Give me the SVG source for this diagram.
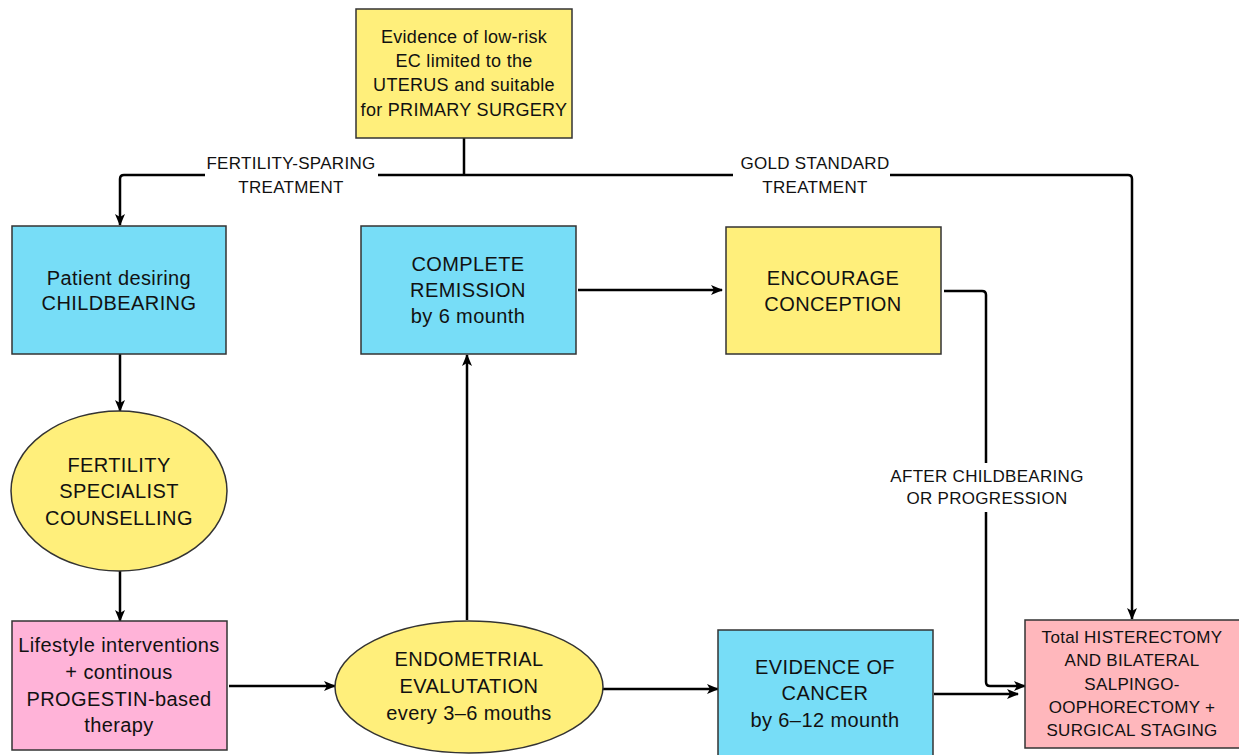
<svg xmlns="http://www.w3.org/2000/svg" width="1239" height="755" viewBox="0 0 1239 755">
<defs>
<marker id="ah" markerWidth="12" markerHeight="10" refX="11" refY="5" orient="auto" markerUnits="userSpaceOnUse">
<path d="M0,0 L12,5 L0,10 L3,5 Z" fill="#000"/>
</marker>
<style>
.n{stroke:#333;stroke-width:1.5}
.y{fill:#FFEF7B}
.c{fill:#77DDF7}
.p{fill:#FFB3D8}
.s{fill:#FFB7BC}
text{font-family:"Liberation Sans",Arial,sans-serif;fill:#111;text-anchor:middle;dominant-baseline:central}
.t{font-size:20px;letter-spacing:0.4px}
.m{font-size:18px;letter-spacing:0.3px}
.l{font-size:17px;letter-spacing:0.3px}
.e{fill:none;stroke:#000;stroke-width:2.5}
</style>
</defs>
<rect width="1239" height="755" fill="#fff"/>
<g id="connectors">
<path class="e" d="M464,138 V175"/>
<path class="e" d="M205,175 H124 Q120,175 120,179 V225" marker-end="url(#ah)"/>
<path class="e" d="M378,175 H733"/>
<path class="e" d="M890,175 H1128 Q1132,175 1132,179 V619" marker-end="url(#ah)"/>
<path class="e" d="M120,354 V411" marker-end="url(#ah)"/>
<path class="e" d="M120,571 V621" marker-end="url(#ah)"/>
<path class="e" d="M229,686 H335" marker-end="url(#ah)"/>
<path class="e" d="M467,620 V355" marker-end="url(#ah)"/>
<path class="e" d="M578,290 H722" marker-end="url(#ah)"/>
<path class="e" d="M944,291 H982 Q986,291 986,295 V463"/>
<path class="e" d="M986,512 V682 Q986,686 990,686 H1025" marker-end="url(#ah)"/>
<path class="e" d="M603,689 H718" marker-end="url(#ah)"/>
<path class="e" d="M934,694 H1018" marker-end="url(#ah)"/>
<text class="l" x="291" y="163">FERTILITY-SPARING</text>
<text class="l" x="291" y="187">TREATMENT</text>
<text class="l" x="815" y="163">GOLD STANDARD</text>
<text class="l" x="815" y="187">TREATMENT</text>
<text class="l" x="987" y="476">AFTER CHILDBEARING</text>
<text class="l" x="987" y="498">OR PROGRESSION</text>
</g>
<g id="n-evidence">
<rect class="n y" x="356" y="9" width="216" height="129"/>
<text class="m" x="464" y="37">Evidence of low-risk</text>
<text class="m" x="464" y="61">EC limited to the</text>
<text class="m" x="464" y="85">UTERUS and suitable</text>
<text class="m" x="464" y="110">for PRIMARY SURGERY</text>
</g>
<g id="n-patient">
<rect class="n c" x="12" y="226" width="214" height="128"/>
<text class="t" x="119" y="278">Patient desiring</text>
<text class="t" x="119" y="303">CHILDBEARING</text>
</g>
<g id="n-counselling">
<ellipse class="n y" cx="119" cy="491" rx="108" ry="80"/>
<text class="t" x="119" y="465">FERTILITY</text>
<text class="t" x="119" y="491">SPECIALIST</text>
<text class="t" x="119" y="518">COUNSELLING</text>
</g>
<g id="n-lifestyle">
<rect class="n p" x="12" y="621" width="215" height="129"/>
<text class="t" x="119" y="645">Lifestyle interventions</text>
<text class="t" x="119" y="672">+ continous</text>
<text class="t" x="119" y="699">PROGESTIN-based</text>
<text class="t" x="119" y="725">therapy</text>
</g>
<g id="n-endometrial">
<ellipse class="n y" cx="469" cy="687" rx="134" ry="66"/>
<text class="t" x="469" y="659">ENDOMETRIAL</text>
<text class="t" x="469" y="686">EVALUTATION</text>
<text class="t" x="469" y="713">every 3–6 mouths</text>
</g>
<g id="n-remission">
<rect class="n c" x="361" y="226" width="215" height="128"/>
<text class="t" x="468" y="264">COMPLETE</text>
<text class="t" x="468" y="290">REMISSION</text>
<text class="t" x="468" y="316">by 6 mounth</text>
</g>
<g id="n-encourage">
<rect class="n y" x="726" y="227" width="215" height="127"/>
<text class="t" x="833" y="278">ENCOURAGE</text>
<text class="t" x="833" y="304">CONCEPTION</text>
</g>
<g id="n-cancer">
<rect class="n c" x="718" y="630" width="215" height="130"/>
<text class="t" x="825" y="667">EVIDENCE OF</text>
<text class="t" x="825" y="693">CANCER</text>
<text class="t" x="825" y="720">by 6–12 mounth</text>
</g>
<g id="n-total">
<rect class="n s" x="1025" y="620" width="218" height="128"/>
<text class="l" x="1132" y="637">Total HISTERECTOMY</text>
<text class="l" x="1132" y="660">AND BILATERAL</text>
<text class="l" x="1132" y="684">SALPINGO-</text>
<text class="l" x="1132" y="707">OOPHORECTOMY +</text>
<text class="l" x="1132" y="730">SURGICAL STAGING</text>
</g>
</svg>
